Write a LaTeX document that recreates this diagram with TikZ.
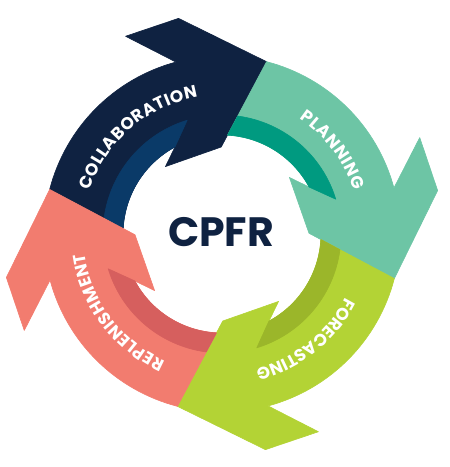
\documentclass[tikz,border=0pt]{standalone}
\usepackage{fontspec}
\setmainfont{Poppins}
\usetikzlibrary{decorations.text}
\definecolor{navy}{HTML}{0F2241}
\definecolor{navystripe}{HTML}{0A3A68}
\definecolor{mint}{HTML}{6DC5A5}
\definecolor{mintstripe}{HTML}{009A80}
\definecolor{lime}{HTML}{B3D335}
\definecolor{limestripe}{HTML}{9BB62A}
\definecolor{salmon}{HTML}{F27C6F}
\definecolor{salmonstripe}{HTML}{D65F5E}
\tikzset{
  part/.style={fill=#1, draw=#1, line width=0.6pt, line join=round},
}
\newcommand{\cycarrow}[2]{%
  \path[part=#1] (75.5:178) arc[start angle=75.5, end angle=15, radius=178]
    -- (26:220) -- (11.4:220) -- (-14.5:178) -- (0.5:87) -- (40:88)
    -- (28.3:99) arc[start angle=28.3, end angle=86.8, radius=99] -- cycle;
  \path[part=#2] (86.8:99) arc[start angle=86.8, end angle=28.3, radius=99]
    -- (17:119) arc[start angle=17, end angle=82.4, radius=119] -- cycle;
}
\newcommand{\lblfont}{\bfseries\fontsize{17}{17}\selectfont}
\newcommand{\arclabel}[3]{%
  \path[font=\lblfont, decorate, decoration={text effects along path, text={#1},
    text effects/.cd, text along path, fit text to path,
    characters={text=white, font=\lblfont}}]
    (#2:139) arc[start angle=#2, end angle=#3, radius=139];
}
\begin{document}
\begin{tikzpicture}[x=1pt, y=1pt]
\useasboundingbox (-222,-233) rectangle (228,234);
\begin{scope}[rotate=90]\cycarrow{navy}{navystripe}\end{scope}
\begin{scope}\cycarrow{mint}{mintstripe}\end{scope}
\begin{scope}[rotate=-90]\cycarrow{lime}{limestripe}\end{scope}
\begin{scope}[rotate=180]\cycarrow{salmon}{salmonstripe}\end{scope}
\arclabel{COLLABORATION}{162}{100}
\arclabel{PLANNING}{56}{18}
\arclabel{FORECASTING}{-27}{-76}
\arclabel{REPLENISHMENT}{-114}{-172}
\node[font=\bfseries\fontsize{41}{41}\selectfont, text=navy, inner sep=0pt] (cpfr) at (-1,1.5) {CPFR};
\end{tikzpicture}
\end{document}
